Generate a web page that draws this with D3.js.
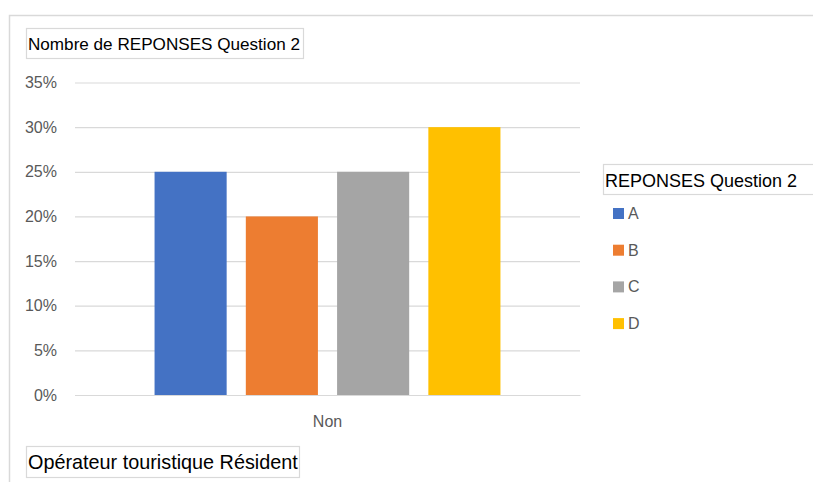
<!DOCTYPE html>
<html>
<head>
<meta charset="utf-8">
<script src="https://cdn.jsdelivr.net/npm/d3@7"></script>
<style>
  html, body { margin: 0; padding: 0; background: #fff; }
  svg { display: block; }
  text { font-family: "Liberation Sans", Arial, sans-serif; }
</style>
</head>
<body>
<svg id="chart" width="813" height="482"></svg>
<script>
// Chart data
const categories = ["Non"];
const seriesNames = ["A", "B", "C", "D"];
const seriesValues = [0.25, 0.20, 0.25, 0.30];
const seriesColors = ["#4472C4", "#ED7D31", "#A5A5A5", "#FFC000"];
const yTicks = [0, 0.05, 0.10, 0.15, 0.20, 0.25, 0.30, 0.35];
const chartTitle = "Nombre de REPONSES Question 2";
const legendTitle = "REPONSES Question 2";
const filterLabel = "Opérateur touristique Résident";

const svg = d3.select("#chart");
const W = 813, H = 482;

// Outer chart frame (runs past the right and bottom edges)
svg.append("rect")
  .attr("x", 9.5).attr("y", 15.5)
  .attr("width", W).attr("height", H)
  .attr("fill", "#fff").attr("stroke", "#d9d9d9").attr("stroke-width", 1.5);

// Plot area
const plot = { left: 75, right: 580, top: 82.5, bottom: 395 };

const y = d3.scaleLinear().domain([0, 0.35]).range([plot.bottom, plot.top]);
const x0 = d3.scaleBand().domain(categories).range([plot.left, plot.right])
  .paddingInner(0).paddingOuter(0.23);
const x1 = d3.scaleBand().domain(seriesNames).range([0, x0.bandwidth()])
  .paddingInner(0.21).paddingOuter(0);

// Gridlines + y labels via axis
const yAxis = d3.axisLeft(y)
  .tickValues(yTicks)
  .tickFormat(d3.format(".0%"))
  .tickSize(-(plot.right - plot.left))
  .tickPadding(18);

const gy = svg.append("g")
  .attr("transform", `translate(${plot.left},0)`)
  .call(yAxis);
gy.select(".domain").remove();
gy.selectAll(".tick line").attr("stroke", "#d9d9d9").attr("stroke-width", 1.2);
gy.selectAll(".tick text")
  .attr("fill", "#595959")
  .attr("font-size", 16);

// Bars
const data = seriesNames.map((s, i) => ({ cat: categories[0], name: s, value: seriesValues[i], color: seriesColors[i] }));
svg.append("g").selectAll("rect")
  .data(data)
  .join("rect")
  .attr("x", d => x0(d.cat) + x1(d.name))
  .attr("y", d => y(d.value))
  .attr("width", x1.bandwidth())
  .attr("height", d => y(0) - y(d.value))
  .attr("fill", d => d.color);

// Category axis
const xAxis = d3.axisBottom(x0).tickSize(0).tickPadding(21);
const gx = svg.append("g")
  .attr("transform", `translate(0,${plot.bottom})`)
  .call(xAxis);
gx.select(".domain").attr("stroke", "#d9d9d9").attr("stroke-width", 1.2);
gx.selectAll(".tick text").attr("fill", "#595959").attr("font-size", 16);

// Boxed label helper: font size fitted so the text spans targetWidth
function boxedLabel(txt, bx, by, bw, bh, tx, baseline, targetWidth) {
  svg.append("rect")
    .attr("x", bx + 0.5).attr("y", by + 0.5)
    .attr("width", bw).attr("height", bh)
    .attr("fill", "#fff").attr("stroke", "#d9d9d9").attr("stroke-width", 1.2);
  const t = svg.append("text")
    .attr("x", tx).attr("y", baseline)
    .attr("fill", "#000")
    .attr("font-size", 20)
    .text(txt);
  const w = t.node().getComputedTextLength();
  t.attr("font-size", 20 * targetWidth / w);
}

boxedLabel(chartTitle, 26, 28, 277, 30, 28, 50, 272);
boxedLabel(filterLabel, 26, 446, 273, 31, 28, 469, 270);
boxedLabel(legendTitle, 603, 164, 220, 30, 605, 187, 192);

// Legend entries
const legend = svg.append("g");
const leg = legend.selectAll("g")
  .data(data)
  .join("g")
  .attr("transform", (d, i) => `translate(613, ${208 + i * 36.7})`);
leg.append("rect")
  .attr("width", 11).attr("height", 11)
  .attr("fill", d => d.color);
leg.append("text")
  .attr("x", 15).attr("y", 11)
  .attr("fill", "#595959")
  .attr("font-size", 16)
  .text(d => d.name);
</script>
</body>
</html>
